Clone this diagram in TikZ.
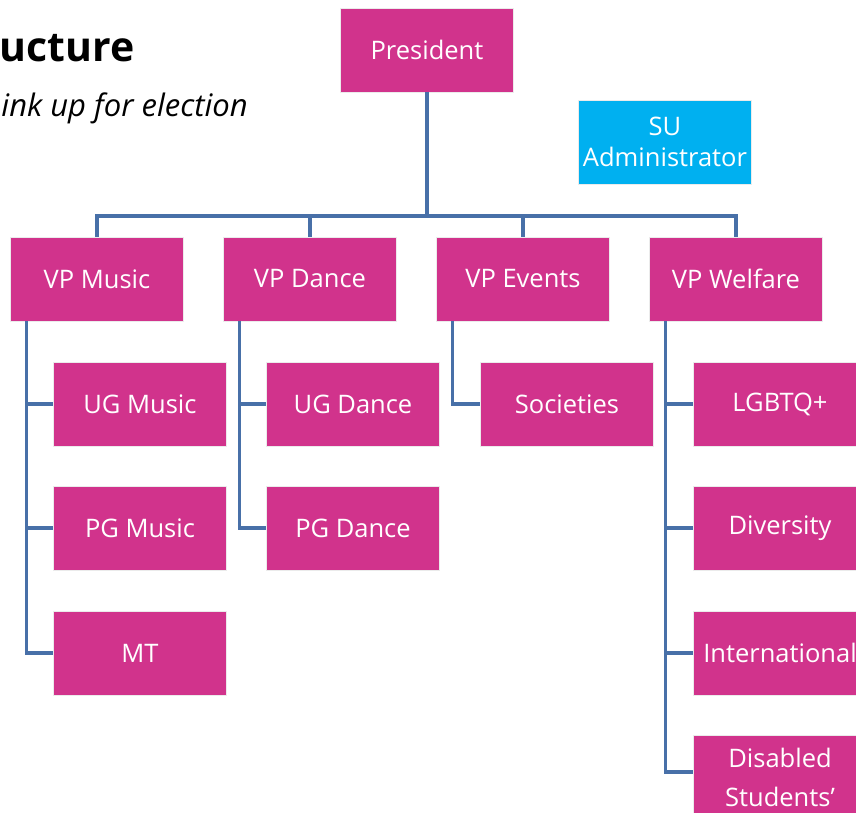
\documentclass[tikz,border=0pt]{standalone}
\usepackage{fontspec}
\setmainfont{Open Sans}
\definecolor{pinkbox}{RGB}{209,51,140}
\definecolor{cyanbox}{RGB}{0,176,240}
\definecolor{linkblue}{RGB}{72,112,168}
\begin{document}
\begin{tikzpicture}[x=1pt,y=-1pt,
    every node/.style = {shape=rectangle, draw=black!8, line width=0.6pt,
        align=center, minimum width=173pt, minimum height=84pt,
        fill=pinkbox, text=white, font=\fontsize{25.5}{31}\selectfont},
    link/.style = {draw=linkblue, line width=3.2pt}]
    \useasboundingbox (0,0) rectangle (856,813);
    \clip (0,0) rectangle (856,813);
    % heading, cut off at the left edge
    \node[draw=none, fill=none, minimum size=0pt, inner sep=0pt, text=black,
        anchor=base east, font=\fontsize{41}{49}\selectfont\bfseries] (title) at (135,62) {ucture};
    \node[draw=none, fill=none, minimum size=0pt, inner sep=0pt, text=black,
        anchor=base east, font=\fontsize{31}{38}\selectfont\itshape] (sub) at (248,117) {ink up for election};
    % top
    \node (pres) at (427,50) {President};
    \node[fill=cyanbox] (admin) at (665,142) {SU\\Administrator};
    % vice presidents
    \node (vpm) at (97,279) {VP Music};
    \node (vpd) at (310,279) {VP Dance};
    \node (vpe) at (523,279) {VP Events};
    \node (vpw) at (736,279) {VP Welfare};
    % officers
    \node (ugm) at (140,404) {UG Music};
    \node (pgm) at (140,528) {PG Music};
    \node (mt) at (140,653) {MT};
    \node (ugd) at (353,404) {UG Dance};
    \node (pgd) at (353,528) {PG Dance};
    \node (soc) at (567,404) {Societies};
    \node (lgb) at (780,404) {LGBTQ+};
    \node (div) at (780,528) {Diversity};
    \node (int) at (780,653) {International};
    \node (dis) at (780,777) {Disabled\\[8pt]Students'};
    \coordinate (bus) at (427,216);
    \draw[link] (pres) -- (bus);
    \draw[link] (bus) -| (vpm);
    \draw[link] (bus) -| (vpd);
    \draw[link] (bus) -| (vpe);
    \draw[link] (bus) -| (vpw);
    \draw[link] ([xshift=16pt]vpm.south west) |- (ugm);
    \draw[link] ([xshift=16pt]vpm.south west) |- (pgm);
    \draw[link] ([xshift=16pt]vpm.south west) |- (mt);
    \draw[link] ([xshift=16pt]vpd.south west) |- (ugd);
    \draw[link] ([xshift=16pt]vpd.south west) |- (pgd);
    \draw[link] ([xshift=16pt]vpe.south west) |- (soc);
    \draw[link] ([xshift=16pt]vpw.south west) |- (lgb);
    \draw[link] ([xshift=16pt]vpw.south west) |- (div);
    \draw[link] ([xshift=16pt]vpw.south west) |- (int);
    \draw[link] ([xshift=16pt]vpw.south west) |- ([yshift=5pt]dis.west);
\end{tikzpicture}
\end{document}
